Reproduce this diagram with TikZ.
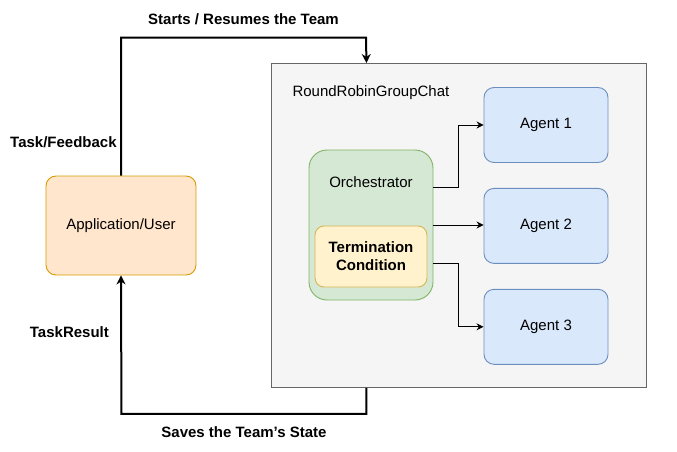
\documentclass[tikz,border=0pt]{standalone}
\usepackage{fontspec}
\setmainfont{Liberation Sans}
\usetikzlibrary{arrows.meta,positioning}
\definecolor{teamfill}{HTML}{F5F5F5}
\definecolor{teamline}{HTML}{666666}
\definecolor{appfill}{HTML}{FFE6CC}
\definecolor{appline}{HTML}{D79B00}
\definecolor{orchfill}{HTML}{D5E8D4}
\definecolor{orchline}{HTML}{82B366}
\definecolor{termfill}{HTML}{FFF2CC}
\definecolor{termline}{HTML}{D6B656}
\definecolor{agentfill}{HTML}{DAE8FC}
\definecolor{agentline}{HTML}{6C8EBF}

\begin{document}
\begin{tikzpicture}[
  x=1pt, y=-1pt,
  node distance=25pt,
  txt/.style={font=\fontsize{15}{18}\selectfont},
  bold/.style={font=\fontsize{15}{18}\selectfont\bfseries},
  box/.style={draw, rounded corners=10pt, align=center, line width=0.9pt, txt},
  team/.style={draw=teamline, fill=teamfill, line width=0.9pt},
  app/.style={box, draw=appline, fill=appfill, minimum width=150pt, minimum height=99pt},
  orch/.style={box, draw=orchline, fill=orchfill, rounded corners=18pt, minimum width=124pt, minimum height=150pt},
  term/.style={box, draw=termline, fill=termfill, rounded corners=9pt, minimum width=112pt, minimum height=61pt, bold},
  agent/.style={box, draw=agentline, fill=agentfill, minimum width=124pt, minimum height=75pt},
  arr/.style={-{Stealth[length=7pt, width=7pt]}, line width=0.9pt},
  loop/.style={-{Stealth[length=9pt, width=9pt]}, line width=2pt}
]
  \useasboundingbox (0,0) rectangle (677,452);

  \node[team, minimum width=375pt, minimum height=324pt, anchor=north west] (team) at (271,63) {};
  \node[txt, anchor=west] (teamlabel) at (289,93) {RoundRobinGroupChat};
  \node[app] (app) at (121,225.5) {Application/User};
  \node[orch] (orch) at (371,225) {};
  \node[txt] (orchlabel) at (371,182) {Orchestrator};
  \node[term] (term) at (371,256.5) {Termination\\Condition};
  \node[agent] (a1) at (546,125) {Agent 1};
  \node[agent, below=of a1] (a2) {Agent 2};
  \node[agent, below=of a2] (a3) {Agent 3};

  \draw[arr] ([yshift=38pt]orch.east) -- ++(25,0) |- (a1.west);
  \draw[arr] (orch.east) -- (orch.east -| a2.west);
  \draw[arr] ([yshift=-38pt]orch.east) -- ++(25,0) |- (a3.west);

  \draw[loop] (app.north) -- node[pos=0.24, left=0pt, bold]{Task/Feedback} ++(0,-138)
    -- node[above=8.5pt, bold]{Starts / Resumes the Team} ++(245,0)
    -- ([xshift=-92.5pt]team.north);
  \draw[loop] ([xshift=-92.5pt]team.south) -- ++(0,26)
    -- node[below=8.5pt, bold]{Saves the Team's State} ++(-245,0)
    -- node[pos=0.594, left=8pt, bold]{TaskResult} (app.south);
\end{tikzpicture}
\end{document}
